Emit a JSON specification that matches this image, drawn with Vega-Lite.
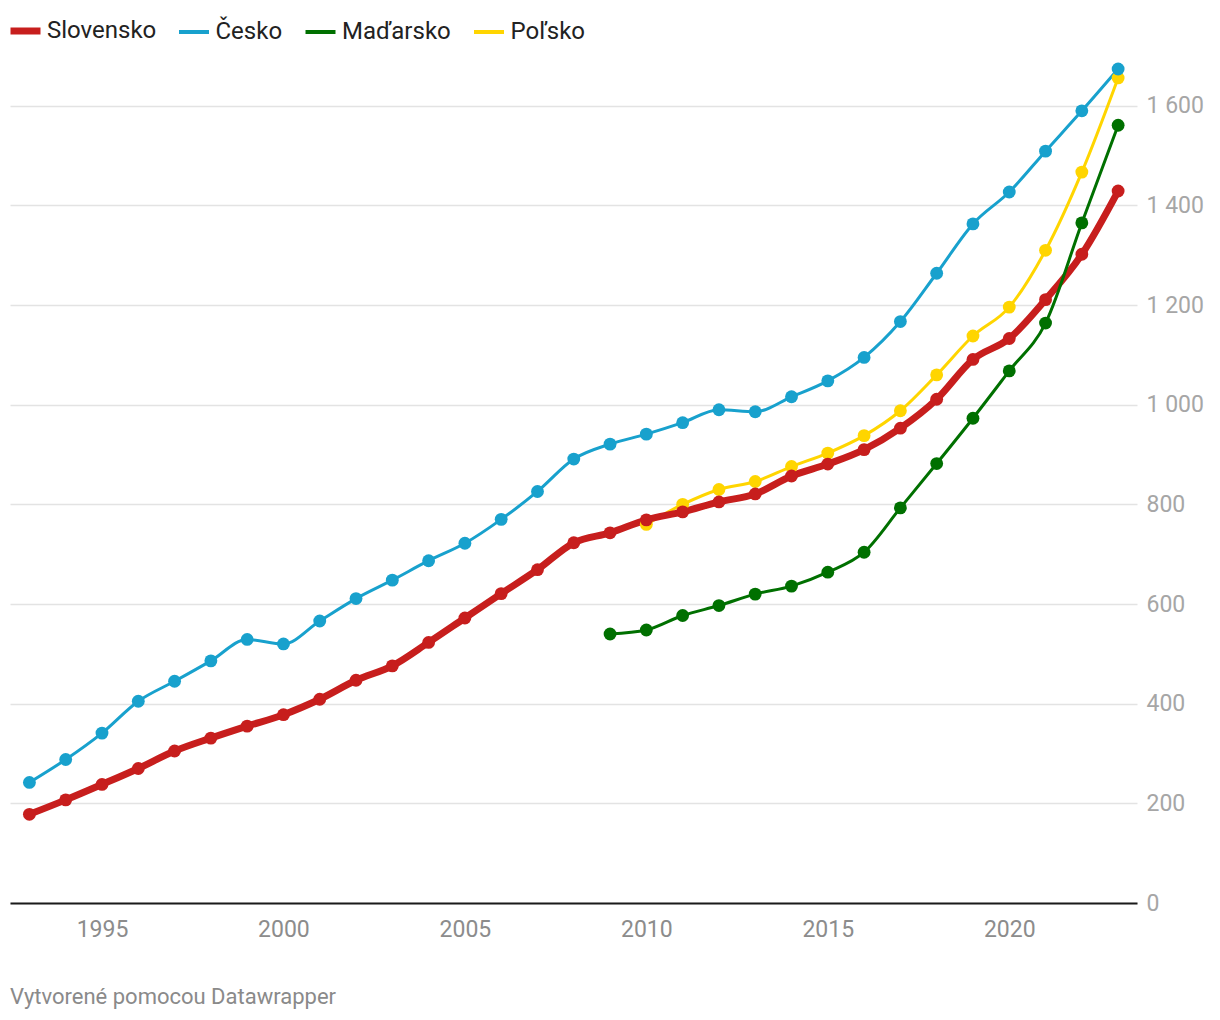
{
  "$schema": "https://vega.github.io/schema/vega-lite/v6.json",
  "width": 1127,
  "height": 847,
  "autosize": {"type": "none"},
  "padding": {"left": 10, "top": 56, "right": 83, "bottom": 117},
  "background": "#ffffff",
  "title": {
    "text": "Vytvorené pomocou Datawrapper",
    "orient": "bottom",
    "anchor": "start",
    "frame": "group",
    "offset": 46,
    "font": "Roboto",
    "fontSize": 22,
    "fontWeight": "normal",
    "color": "#8a8a8a"
  },
  "data": {
    "values": [
      {"country": "Poľsko", "year": 2010, "value": 760},
      {"country": "Poľsko", "year": 2011, "value": 800},
      {"country": "Poľsko", "year": 2012, "value": 830},
      {"country": "Poľsko", "year": 2013, "value": 846},
      {"country": "Poľsko", "year": 2014, "value": 876},
      {"country": "Poľsko", "year": 2015, "value": 903},
      {"country": "Poľsko", "year": 2016, "value": 938},
      {"country": "Poľsko", "year": 2017, "value": 988},
      {"country": "Poľsko", "year": 2018, "value": 1060},
      {"country": "Poľsko", "year": 2019, "value": 1138},
      {"country": "Poľsko", "year": 2020, "value": 1196},
      {"country": "Poľsko", "year": 2021, "value": 1310},
      {"country": "Poľsko", "year": 2022, "value": 1467},
      {"country": "Poľsko", "year": 2023, "value": 1656},
      {"country": "Slovensko", "year": 1993, "value": 178},
      {"country": "Slovensko", "year": 1994, "value": 207},
      {"country": "Slovensko", "year": 1995, "value": 238},
      {"country": "Slovensko", "year": 1996, "value": 270},
      {"country": "Slovensko", "year": 1997, "value": 305},
      {"country": "Slovensko", "year": 1998, "value": 331},
      {"country": "Slovensko", "year": 1999, "value": 355},
      {"country": "Slovensko", "year": 2000, "value": 378},
      {"country": "Slovensko", "year": 2001, "value": 409},
      {"country": "Slovensko", "year": 2002, "value": 447},
      {"country": "Slovensko", "year": 2003, "value": 476},
      {"country": "Slovensko", "year": 2004, "value": 523},
      {"country": "Slovensko", "year": 2005, "value": 572},
      {"country": "Slovensko", "year": 2006, "value": 621},
      {"country": "Slovensko", "year": 2007, "value": 669},
      {"country": "Slovensko", "year": 2008, "value": 723},
      {"country": "Slovensko", "year": 2009, "value": 743},
      {"country": "Slovensko", "year": 2010, "value": 769},
      {"country": "Slovensko", "year": 2011, "value": 785},
      {"country": "Slovensko", "year": 2012, "value": 805},
      {"country": "Slovensko", "year": 2013, "value": 821},
      {"country": "Slovensko", "year": 2014, "value": 857},
      {"country": "Slovensko", "year": 2015, "value": 881},
      {"country": "Slovensko", "year": 2016, "value": 910},
      {"country": "Slovensko", "year": 2017, "value": 953},
      {"country": "Slovensko", "year": 2018, "value": 1011},
      {"country": "Slovensko", "year": 2019, "value": 1091},
      {"country": "Slovensko", "year": 2020, "value": 1133},
      {"country": "Slovensko", "year": 2021, "value": 1211},
      {"country": "Slovensko", "year": 2022, "value": 1302},
      {"country": "Slovensko", "year": 2023, "value": 1429},
      {"country": "Maďarsko", "year": 2009, "value": 540},
      {"country": "Maďarsko", "year": 2010, "value": 548},
      {"country": "Maďarsko", "year": 2011, "value": 577},
      {"country": "Maďarsko", "year": 2012, "value": 597},
      {"country": "Maďarsko", "year": 2013, "value": 620},
      {"country": "Maďarsko", "year": 2014, "value": 636},
      {"country": "Maďarsko", "year": 2015, "value": 664},
      {"country": "Maďarsko", "year": 2016, "value": 704},
      {"country": "Maďarsko", "year": 2017, "value": 793},
      {"country": "Maďarsko", "year": 2018, "value": 882},
      {"country": "Maďarsko", "year": 2019, "value": 973},
      {"country": "Maďarsko", "year": 2020, "value": 1068},
      {"country": "Maďarsko", "year": 2021, "value": 1164},
      {"country": "Maďarsko", "year": 2022, "value": 1365},
      {"country": "Maďarsko", "year": 2023, "value": 1561},
      {"country": "Česko", "year": 1993, "value": 242},
      {"country": "Česko", "year": 1994, "value": 288},
      {"country": "Česko", "year": 1995, "value": 341},
      {"country": "Česko", "year": 1996, "value": 405},
      {"country": "Česko", "year": 1997, "value": 445},
      {"country": "Česko", "year": 1998, "value": 486},
      {"country": "Česko", "year": 1999, "value": 529},
      {"country": "Česko", "year": 2000, "value": 520},
      {"country": "Česko", "year": 2001, "value": 566},
      {"country": "Česko", "year": 2002, "value": 611},
      {"country": "Česko", "year": 2003, "value": 648},
      {"country": "Česko", "year": 2004, "value": 687},
      {"country": "Česko", "year": 2005, "value": 722},
      {"country": "Česko", "year": 2006, "value": 770},
      {"country": "Česko", "year": 2007, "value": 826},
      {"country": "Česko", "year": 2008, "value": 891},
      {"country": "Česko", "year": 2009, "value": 921},
      {"country": "Česko", "year": 2010, "value": 941},
      {"country": "Česko", "year": 2011, "value": 964},
      {"country": "Česko", "year": 2012, "value": 990},
      {"country": "Česko", "year": 2013, "value": 986},
      {"country": "Česko", "year": 2014, "value": 1016},
      {"country": "Česko", "year": 2015, "value": 1048},
      {"country": "Česko", "year": 2016, "value": 1095},
      {"country": "Česko", "year": 2017, "value": 1167},
      {"country": "Česko", "year": 2018, "value": 1264},
      {"country": "Česko", "year": 2019, "value": 1363},
      {"country": "Česko", "year": 2020, "value": 1427},
      {"country": "Česko", "year": 2021, "value": 1509},
      {"country": "Česko", "year": 2022, "value": 1590},
      {"country": "Česko", "year": 2023, "value": 1674}
    ]
  },
  "encoding": {
    "x": {
      "field": "year",
      "type": "quantitative",
      "scale": {"domain": [1992.465, 2023.52], "nice": false, "zero": false},
      "axis": {
        "title": null,
        "values": [1995, 2000, 2005, 2010, 2015, 2020],
        "format": "d",
        "grid": false,
        "ticks": false,
        "domain": true,
        "domainColor": "#1a1a1a",
        "domainWidth": 2,
        "labelFont": "Roboto",
        "labelFontSize": 23,
        "labelColor": "#8c8c8c",
        "labelPadding": 15,
        "zindex": 1
      }
    },
    "y": {
      "field": "value",
      "type": "quantitative",
      "scale": {"domain": [0, 1700], "nice": false},
      "axis": {
        "title": null,
        "orient": "right",
        "values": [0, 200, 400, 600, 800, 1000, 1200, 1400, 1600],
        "labelExpr": "replace(format(datum.value, ','), ',', ' ')",
        "grid": true,
        "gridColor": "#e3e3e3",
        "gridWidth": 1.5,
        "ticks": false,
        "domain": false,
        "labelFont": "Roboto",
        "labelFontSize": 23,
        "labelColor": "#a6a6a6",
        "labelPadding": 9,
        "labelAlign": "left",
        "labelBaseline": "middle"
      }
    },
    "color": {
      "field": "country",
      "type": "nominal",
      "scale": {
        "domain": ["Slovensko", "Česko", "Maďarsko", "Poľsko"],
        "range": ["#c71e1d", "#18a1cd", "#007000", "#ffd500"]
      },
      "legend": {
        "title": null,
        "orient": "none",
        "direction": "horizontal",
        "legendX": 3.5,
        "legendY": -37,
        "symbolType": "stroke",
        "symbolSize": 900,
        "symbolStrokeWidth": 4,
        "labelFont": "Roboto",
        "labelFontSize": 24,
        "labelColor": "#222222",
        "labelOffset": 9.5,
        "columnPadding": 14.5,
        "symbolOpacity": 1,
        "encode": {
          "symbols": {
            "update": {
              "strokeWidth": {"signal": "datum.label === 'Slovensko' ? 7 : 4"},
              "strokeCap": {"value": "butt"}
            }
          }
        }
      }
    }
  },
  "layer": [
    {
      "mark": {"type": "line", "interpolate": "monotone", "strokeCap": "round", "strokeJoin": "round"},
      "encoding": {
        "strokeWidth": {
          "condition": {"test": "datum.country === 'Slovensko'", "value": 7},
          "value": 3
        }
      }
    },
    {
      "mark": {"type": "point", "filled": true, "opacity": 1, "size": 165, "shape": "circle"},
      "encoding": {}
    }
  ],
  "config": {
    "view": {"stroke": null},
    "font": "Roboto"
  }
}
